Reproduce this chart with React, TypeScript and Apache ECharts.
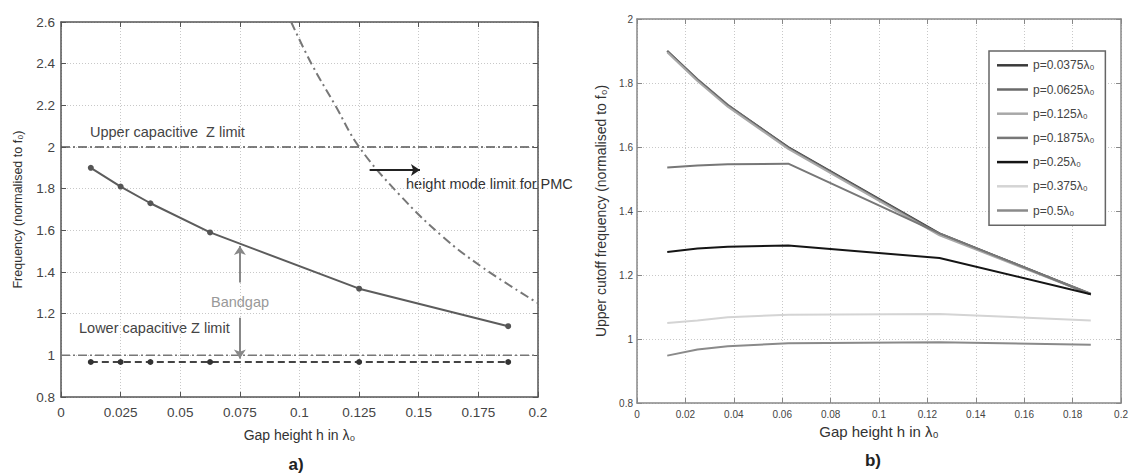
import React, { useEffect, useRef } from "react";
import * as echarts from "echarts";

// ---------- data: panel a) ----------
const gapHeightsA = [0.0125, 0.025, 0.0375, 0.0625, 0.125, 0.1875];
const upperBandEdge = [1.9, 1.81, 1.73, 1.59, 1.32, 1.14];
const lowerBandEdge = [0.968, 0.968, 0.968, 0.968, 0.968, 0.968];
const heightModeX = [0.0965, 0.105, 0.115, 0.125, 0.142, 0.16, 0.177, 0.2];
const heightModeY = [2.6, 2.4, 2.2, 2.0, 1.77, 1.57, 1.42, 1.25];
const upperCapLimit = 2.0;
const lowerCapLimit = 1.0;
const xTicksA = { min: 0, max: 0.2, interval: 0.025 };
const yTicksA = { min: 0.8, max: 2.6, interval: 0.2 };

// ---------- data: panel b) ----------
const gapHeightsB = [0.0125, 0.025, 0.0375, 0.0625, 0.125, 0.1875];
const seriesNamesB = [
  "p=0.0375λ₀",
  "p=0.0625λ₀",
  "p=0.125λ₀",
  "p=0.1875λ₀",
  "p=0.25λ₀",
  "p=0.375λ₀",
  "p=0.5λ₀",
];
const p0375 = [1.9, 1.81, 1.73, 1.6, 1.33, 1.14];
const p0625 = [1.9, 1.812, 1.732, 1.598, 1.328, 1.142];
const p125 = [1.896, 1.806, 1.726, 1.594, 1.324, 1.14];
const p1875 = [1.536, 1.542, 1.546, 1.548, 1.33, 1.14];
const p25 = [1.272, 1.283, 1.288, 1.292, 1.253, 1.14];
const p375 = [1.05, 1.058, 1.068, 1.076, 1.078, 1.058];
const p5 = [0.948, 0.967, 0.977, 0.987, 0.99, 0.982];
const seriesValuesB = [p0375, p0625, p125, p1875, p25, p375, p5];
const xTicksB = { min: 0, max: 0.2, interval: 0.02 };
const yTicksB = { min: 0.8, max: 2, interval: 0.2 };

const FONT = "'Liberation Sans', Arial, 'DejaVu Sans', sans-serif";
const coloursB = ["#3a3a3a", "#6a6a6a", "#a8a8a8", "#777777", "#151515", "#d4d4d4", "#8a8a8a"];

const zip = (xs: number[], ys: number[]) => xs.map((x, i) => [x, ys[i]]);

export default function App() {
  const ref = useRef<HTMLDivElement>(null);
  useEffect(() => {
    if (!ref.current) return;
    const chart = echarts.init(ref.current, undefined, { renderer: "svg" });

    const gridA = { left: 61, top: 22, width: 477, height: 375 };
    const gridB = { left: 637, top: 19, width: 488, height: 384 };

    const mainX = (grid: number, t: any, col: string, fs: number, name: string, gap: number, nfs: number, lm: number) => ({
      type: "value",
      gridIndex: grid,
      ...t,
      position: "bottom",
      name,
      nameLocation: "middle",
      nameGap: gap,
      nameTextStyle: { fontFamily: FONT, fontSize: nfs, color: "#333" },
      axisLine: { show: true, lineStyle: { color: col, width: 1.5 } },
      axisTick: { show: true, inside: true, length: 5, lineStyle: { color: col } },
      axisLabel: { fontFamily: FONT, fontSize: fs, color: "#444", margin: lm },
      splitLine: { show: true, lineStyle: { color: "#c8c8c8", type: [1, 2], width: 1 } },
    });
    const mainY = (grid: number, t: any, col: string, fs: number, name: string, gap: number, nfs: number, lm: number) => ({
      type: "value",
      gridIndex: grid,
      ...t,
      position: "left",
      name,
      nameLocation: "middle",
      nameGap: gap,
      nameTextStyle: { fontFamily: FONT, fontSize: nfs, color: "#333" },
      axisLine: { show: true, lineStyle: { color: col, width: 1.5 } },
      axisTick: { show: true, inside: true, length: 5, lineStyle: { color: col } },
      axisLabel: { fontFamily: FONT, fontSize: fs, color: "#444", margin: lm },
      splitLine: { show: true, lineStyle: { color: "#c8c8c8", type: [1, 2], width: 1 } },
    });
    const mirror = (grid: number, t: any, col: string, pos: string) => ({
      type: "value",
      gridIndex: grid,
      ...t,
      position: pos,
      axisLine: { show: true, onZero: false, lineStyle: { color: col, width: 1.5 } },
      axisTick: { show: true, inside: true, length: 5, lineStyle: { color: col } },
      axisLabel: { show: false },
      splitLine: { show: false },
    });

    const seriesB = seriesNamesB.map((name, i) => ({
      type: "line",
      name,
      xAxisIndex: 2,
      yAxisIndex: 2,
      data: zip(gapHeightsB, seriesValuesB[i]),
      symbol: "none",
      lineStyle: { color: coloursB[i], width: 2 },
      itemStyle: { color: coloursB[i] },
      z: 3 + (i === 4 ? 1 : 0),
    }));

    const txt = (text: string, x: number, y: number, fs: number, fill: string, align = "left", weight = "normal") => ({
      type: "text",
      x,
      y,
      style: { text, fontFamily: FONT, fontSize: fs, fill, align, verticalAlign: "middle", fontWeight: weight },
    });

    chart.setOption({
      animation: false,
      backgroundColor: "#ffffff",
      grid: [
        { ...gridA, containLabel: false },
        { ...gridB, containLabel: false },
      ],
      xAxis: [
        mainX(0, xTicksA, "#555", 13.5, "Gap height h in λ₀", 31, 14, 8),
        mirror(0, xTicksA, "#555", "top"),
        mainX(1, xTicksB, "#888", 10, "Gap height h in λ₀", 17, 15, 6),
        mirror(1, xTicksB, "#888", "top"),
      ],
      yAxis: [
        mainY(0, yTicksA, "#555", 13.5, "Frequency (normalised to f₀)", 37, 12.5, 6),
        mirror(0, yTicksA, "#555", "right"),
        mainY(1, yTicksB, "#888", 10, "Upper cutoff frequency (normalised to f₀)", 29, 14, 4),
        mirror(1, yTicksB, "#888", "right"),
      ],
      legend: {
        data: seriesNamesB,
        orient: "vertical",
        left: 989,
        top: 51,
        icon: "rect",
        itemWidth: 31,
        itemHeight: 2.5,
        itemGap: 10.2,
        padding: [7.3, 11, 7.7, 8],
        backgroundColor: "#ffffff",
        borderColor: "#666",
        borderWidth: 1.5,
        borderRadius: 0,
        textStyle: { fontFamily: FONT, fontSize: 12, lineHeight: 14, color: "#444" },
      },
      series: [
        {
          type: "line",
          xAxisIndex: 0,
          yAxisIndex: 0,
          data: zip([xTicksA.min, xTicksA.max], [upperCapLimit, upperCapLimit]),
          symbol: "none",
          lineStyle: { color: "#555", width: 1.5, type: [9, 3, 2, 3] },
        },
        {
          type: "line",
          xAxisIndex: 0,
          yAxisIndex: 0,
          data: zip([xTicksA.min, xTicksA.max], [lowerCapLimit, lowerCapLimit]),
          symbol: "none",
          lineStyle: { color: "#777", width: 1.5, type: [9, 3, 2, 3] },
        },
        {
          type: "line",
          xAxisIndex: 0,
          yAxisIndex: 0,
          data: zip(heightModeX, heightModeY),
          smooth: 0.4,
          symbol: "none",
          lineStyle: { color: "#777", width: 2, type: [9, 4, 2, 4] },
        },
        {
          type: "line",
          xAxisIndex: 0,
          yAxisIndex: 0,
          data: zip(gapHeightsA, lowerBandEdge),
          symbol: "circle",
          symbolSize: 6,
          lineStyle: { color: "#444", width: 2, type: [7, 4] },
          itemStyle: { color: "#333" },
        },
        {
          type: "line",
          xAxisIndex: 0,
          yAxisIndex: 0,
          data: zip(gapHeightsA, upperBandEdge),
          symbol: "circle",
          symbolSize: 6,
          lineStyle: { color: "#5c5c5c", width: 2 },
          itemStyle: { color: "#555" },
          markLine: {
            silent: true,
            symbol: ["none", "arrow"],
            symbolSize: 9,
            label: { show: false },
            animation: false,
            data: [
              [
                { coord: [0.1294, 1.89], lineStyle: { color: "#222", width: 2, type: "solid" } },
                { coord: [0.1505, 1.89] },
              ],
              [
                { coord: [0.075, 1.35], lineStyle: { color: "#888", width: 2, type: "solid" } },
                { coord: [0.075, 1.525] },
              ],
              [
                { coord: [0.075, 1.18], lineStyle: { color: "#888", width: 2, type: "solid" } },
                { coord: [0.075, 0.985] },
              ],
            ],
          },
        },
        ...seriesB,
      ],
      graphic: [
        txt("Upper capacitive  Z limit", 90, 132, 14.5, "#444"),
        txt("height mode limit for PMC", 406, 184, 14.5, "#333"),
        txt("Lower capacitive Z limit", 79, 328, 14.5, "#444"),
        txt("Bandgap", 240, 302, 14.5, "#999", "center"),
        txt("a)", 296, 464, 17, "#222", "center", "bold"),
        txt("b)", 873, 460, 17, "#222", "center", "bold"),
      ],
    });
    return () => chart.dispose();
  }, []);
  return <div ref={ref} style={{ position: "fixed", left: 0, top: 0, width: 1131, height: 475, background: "#fff" }} />;
}
